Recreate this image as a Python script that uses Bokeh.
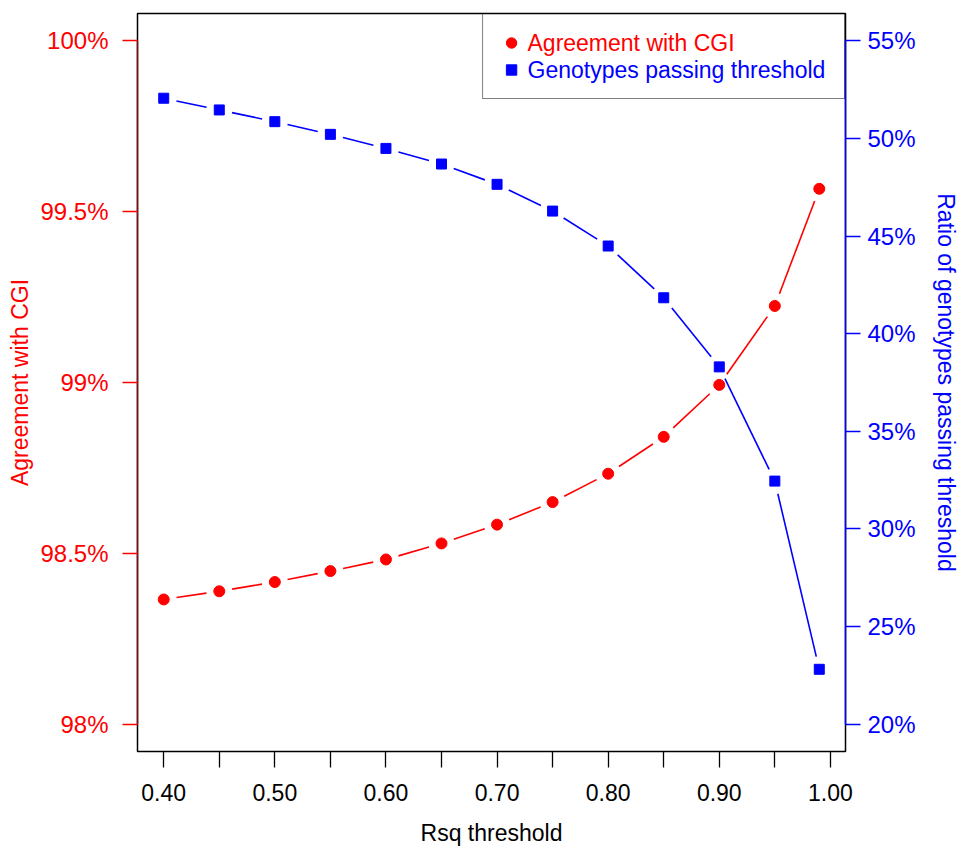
import math
from bokeh.plotting import figure
from bokeh.models import (Range1d, LinearAxis, FixedTicker, Legend, LegendItem, Label,
                          CustomJSTickFormatter, PrintfTickFormatter)
from bokeh.embed import file_html
from bokeh.resources import INLINE

# ---- data ----
rsq = [0.40, 0.45, 0.50, 0.55, 0.60, 0.65, 0.70, 0.75, 0.80, 0.85, 0.90, 0.95, 0.99]
agreement = [98.365, 98.389, 98.416, 98.448, 98.482, 98.529, 98.584, 98.650, 98.733,
             98.841, 98.993, 99.224, 99.567]
passing = [52.06, 51.46, 50.86, 50.21, 49.49, 48.69, 47.65, 46.28, 44.49, 41.84,
           38.30, 32.45, 22.81]
x_major = [0.40, 0.50, 0.60, 0.70, 0.80, 0.90, 1.00]
x_minor = [0.45, 0.55, 0.65, 0.75, 0.85, 0.95]
left_ticks = [98.0, 98.5, 99.0, 99.5, 100.0]
right_ticks = [20, 25, 30, 35, 40, 45, 50, 55]
series_names = ["Agreement with CGI", "Genotypes passing threshold"]

FONT = "Liberation Sans"
RED = "#ff0000"
BLUE = "#0000ff"

W, H = 961, 850
BL, BR, BT, BB = 137, 115, 13, 99
FW, FH = W - BL - BR, H - BT - BB

x0, x1 = 0.3764, 1.0136
yl0, yl1 = 97.92, 100.08
yr0, yr1 = 18.6, 56.4

p = figure(width=W, height=H, output_backend="svg", toolbar_location=None,
           x_range=Range1d(x0, x1), y_range=Range1d(yl0, yl1),
           min_border_left=BL, min_border_right=BR, min_border_top=BT, min_border_bottom=BB)
p.extra_y_ranges = {"right": Range1d(yr0, yr1)}
p.xgrid.visible = False
p.ygrid.visible = False
p.outline_line_color = "black"
p.outline_line_width = 1.5
p.background_fill_color = "white"
p.border_fill_color = "white"

# x axis
xa = p.xaxis[0]
xa.ticker = FixedTicker(ticks=x_major, minor_ticks=x_minor)
xa.formatter = PrintfTickFormatter(format="%.2f")
xa.axis_line_color = None
xa.major_tick_out = 16
xa.major_tick_in = 0
xa.minor_tick_out = 16
xa.minor_tick_in = 0
xa.major_tick_line_color = "black"
xa.minor_tick_line_color = "black"
xa.major_tick_line_width = 1.3
xa.minor_tick_line_width = 1.3
xa.major_label_standoff = 16
xa.major_label_text_font = FONT
xa.major_label_text_font_size = "23px"
xa.major_label_text_color = "black"
xa.axis_label = "Rsq threshold"
xa.axis_label_text_font = FONT
xa.axis_label_text_font_size = "23px"
xa.axis_label_text_font_style = "normal"
xa.axis_label_text_color = "black"
xa.axis_label_standoff = 16

pct = CustomJSTickFormatter(code="return tick + '%';")

# left axis
ya = p.yaxis[0]
ya.ticker = FixedTicker(ticks=left_ticks)
ya.formatter = pct
ya.bounds = (98, 100)
ya.axis_line_color = "#7a1010"
ya.axis_line_width = 1.5
ya.major_tick_out = 15
ya.major_tick_in = 0
ya.minor_tick_line_color = None
ya.major_tick_line_color = RED
ya.major_tick_line_width = 1.3
ya.major_label_standoff = 14
ya.major_label_text_font = FONT
ya.major_label_text_font_size = "24px"
ya.major_label_text_color = RED
ya.axis_label = series_names[0]
ya.axis_label_text_font = FONT
ya.axis_label_text_font_size = "23px"
ya.axis_label_text_font_style = "normal"
ya.axis_label_text_color = RED
ya.axis_label_standoff = 4

# right axis
ra = LinearAxis(y_range_name="right")
ra.ticker = FixedTicker(ticks=right_ticks)
ra.formatter = pct
ra.bounds = (20, 55)
ra.axis_line_color = BLUE
ra.axis_line_width = 1.5
ra.major_tick_out = 15
ra.major_tick_in = 0
ra.minor_tick_line_color = None
ra.major_tick_line_color = BLUE
ra.major_tick_line_width = 1.3
ra.major_label_standoff = 7
ra.major_label_text_font = FONT
ra.major_label_text_font_size = "24px"
ra.major_label_text_color = BLUE
ra.axis_label = "Ratio of genotypes passing threshold"
ra.axis_label_text_font = FONT
ra.axis_label_text_font_size = "23px"
ra.axis_label_text_font_style = "normal"
ra.axis_label_text_color = BLUE
ra.axis_label_standoff = 14
p.add_layout(ra, "right")

# gapped line segments (R type="b")
GAP = 13.0
def gapped(xs, ys, ylo, yhi):
    sx = FW / (x1 - x0)
    sy = FH / (yhi - ylo)
    a, b, c, d = [], [], [], []
    for i in range(len(xs) - 1):
        dxp = (xs[i + 1] - xs[i]) * sx
        dyp = (ys[i + 1] - ys[i]) * sy
        L = math.hypot(dxp, dyp)
        if L <= 2 * GAP:
            continue
        f = GAP / L
        a.append(xs[i] + f * (xs[i + 1] - xs[i]))
        b.append(ys[i] + f * (ys[i + 1] - ys[i]))
        c.append(xs[i + 1] - f * (xs[i + 1] - xs[i]))
        d.append(ys[i + 1] - f * (ys[i + 1] - ys[i]))
    return a, b, c, d

ra_, rb_, rc_, rd_ = gapped(rsq, agreement, yl0, yl1)
p.segment(ra_, rb_, rc_, rd_, line_color=RED, line_width=1.6)
ba_, bb_, bc_, bd_ = gapped(rsq, passing, yr0, yr1)
p.segment(ba_, bb_, bc_, bd_, line_color=BLUE, line_width=1.6, y_range_name="right")

r_red = p.scatter(rsq, agreement, marker="circle", size=11, fill_color=RED, line_color=RED)
r_blue = p.scatter(rsq, passing, marker="square", size=10, fill_color=BLUE, line_color=BLUE,
                   y_range_name="right")

legend = Legend(items=[LegendItem(label=series_names[0], renderers=[r_red]),
                       LegendItem(label=series_names[1], renderers=[r_blue])],
                location="top_right", margin=0, padding=15, spacing=0,
                glyph_width=26, glyph_height=27, label_height=27, label_standoff=7,
                label_text_font=FONT, label_text_font_size="23px", label_text_alpha=0,
                border_line_color="black", border_line_width=1.5,
                background_fill_alpha=0)
p.add_layout(legend, "center")

lab1 = Label(x=390, y=FH - 29, x_units="screen", y_units="screen", text=series_names[0],
             text_font=FONT, text_font_size="23px", text_color=RED, text_baseline="middle")
lab2 = Label(x=390, y=FH - 56, x_units="screen", y_units="screen", text=series_names[1],
             text_font=FONT, text_font_size="23px", text_color=BLUE, text_baseline="middle")
p.add_layout(lab1)
p.add_layout(lab2)

open("out.html", "w").write(file_html(p, INLINE))
